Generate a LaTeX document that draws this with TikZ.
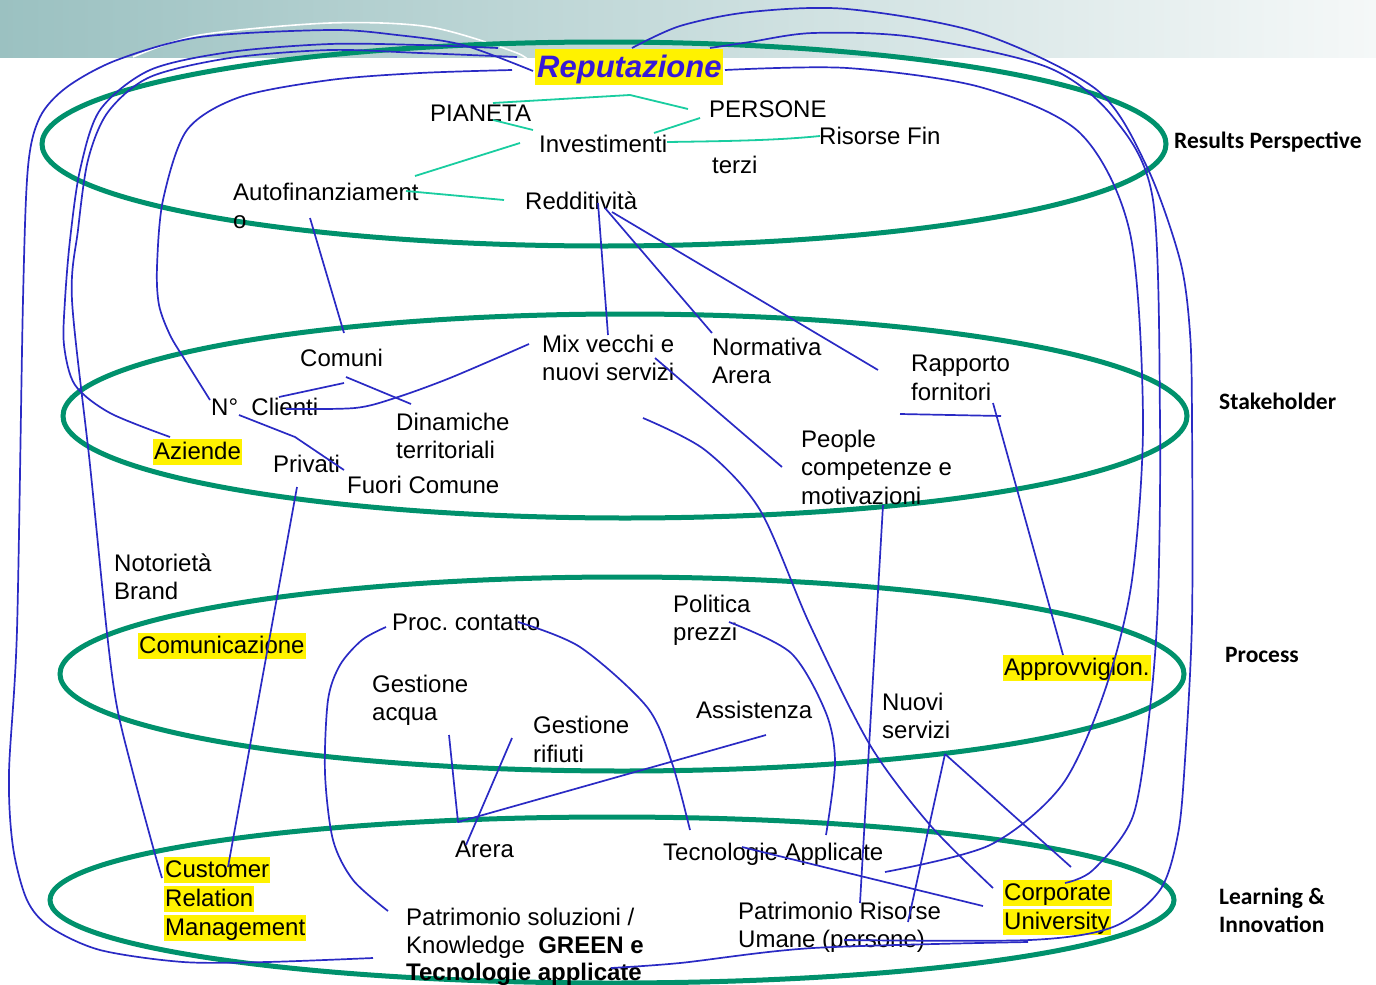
\documentclass[tikz,border=0pt]{standalone}
\usepackage{fontspec}
\setmainfont{Liberation Sans}
\newfontfamily\lblfont{Carlito}
\definecolor{ringgreen}{RGB}{0,145,108}
\definecolor{linkblue}{RGB}{42,42,196}
\definecolor{linkteal}{RGB}{25,205,160}
\definecolor{repblue}{RGB}{55,25,215}
\definecolor{bandL}{RGB}{155,193,193}
\definecolor{bandR}{RGB}{245,248,248}
\frenchspacing
\begin{document}
\begin{tikzpicture}[x=1pt,y=-1pt,
  ring/.style={draw=ringgreen, line width=5pt},
  link/.style={draw=linkblue, line width=1.7pt, line join=round},
  tlink/.style={draw=linkteal, line width=1.8pt, line join=round},
  txt/.style={anchor=base west, inner sep=0pt, font=\fontsize{24}{29}\selectfont},
  hl/.style={txt, fill=yellow, inner xsep=1pt, inner ysep=0pt, text height=20pt, text depth=6pt},
  side/.style={anchor=base west, inner sep=0pt, font=\lblfont\bfseries\fontsize{23.5}{28}\selectfont}]
\useasboundingbox (0,0) rectangle (1376,985);
% top band
\shade[left color=bandL, right color=bandR] (0,0) rectangle (1376,57);
\draw[white, line width=1.6pt] plot[smooth] coordinates {(533,67) (517,53) (430,27) (330,23) (200,35) (133,57)};
% rings
\draw[ring] (604,144) ellipse [x radius=562pt, y radius=102pt];
\draw[ring] (625,416) ellipse [x radius=562pt, y radius=102pt];
\draw[ring] (622,674) ellipse [x radius=562pt, y radius=97pt];
\draw[ring] (612,900) ellipse [x radius=562pt, y radius=83pt];
% title
\node[anchor=base west, fill=yellow, inner xsep=2pt, inner ysep=0pt, text height=28pt, text depth=8pt, text=repblue, font=\bfseries\itshape\fontsize{31}{36}\selectfont] (rep) at (535,77) {Reputazione};
% texts
\node[txt] (pianeta) at (430,121) {PIANETA};
\node[txt] (persone) at (709,117) {PERSONE};
\node[txt] (risorse) at (819,144) {Risorse Fin};
\node[txt] (terzi) at (712,173) {terzi};
\node[txt] (invest) at (539,152) {Investimenti};
\node[txt] (auto1) at (233,200) {Autofinanziament};
\node[txt] (auto2) at (233,228) {o};
\node[txt] (redd) at (525,209) {Redditività};
\node[txt] (mix1) at (542,352) {Mix vecchi e};
\node[txt] (mix2) at (542,380) {nuovi servizi};
\node[txt] (norm1) at (712,355) {Normativa};
\node[txt] (norm2) at (712,383) {Arera};
\node[txt] (comuni) at (300,366) {Comuni};
\node[txt] (rapp1) at (911,371) {Rapporto};
\node[txt] (rapp2) at (911,400) {fornitori};
\node[txt] (clienti) at (211,415) {N°\ \ Clienti};
\node[txt] (din1) at (396,430) {Dinamiche};
\node[txt] (din2) at (396,458) {territoriali};
\node[hl] (aziende) at (153,459) {Aziende};
\node[txt] (privati) at (273,472) {Privati};
\node[txt] (fuori) at (347,493) {Fuori Comune};
\node[txt] (people1) at (801,447) {People};
\node[txt] (people2) at (801,475) {competenze e};
\node[txt] (people3) at (801,504) {motivazioni};
\node[txt] (noto1) at (114,571) {Notorietà};
\node[txt] (noto2) at (114,599) {Brand};
\node[hl] (comunic) at (138,653) {Comunicazione};
\node[txt] (proc) at (392,630) {Proc. contatto};
\node[txt] (pol1) at (673,612) {Politica};
\node[txt] (pol2) at (673,640) {prezzi};
\node[hl] (approv) at (1003,675) {Approvvigion.};
\node[txt] (acqua1) at (372,692) {Gestione};
\node[txt] (acqua2) at (372,720) {acqua};
\node[txt] (rif1) at (533,733) {Gestione};
\node[txt] (rif2) at (533,762) {rifiuti};
\node[txt] (assist) at (696,718) {Assistenza};
\node[txt] (nuovi1) at (882,710) {Nuovi};
\node[txt] (nuovi2) at (882,738) {servizi};
\node[txt] (arera) at (455,857) {Arera};
\node[txt] (tecapp) at (663,860) {Tecnologie Applicate};
\node[hl] (crm1) at (164,877) {Customer\ };
\node[hl] (crm2) at (164,906) {Relation};
\node[hl] (crm3) at (164,935) {Management};
\node[hl] (corp1) at (1003,900) {Corporate\ };
\node[hl] (corp2) at (1003,929) {University};
\node[txt] (pat1) at (406,925) {Patrimonio soluzioni /};
\node[txt] (pat2) at (406,953) {Knowledge\ \ \textbf{GREEN e}};
\node[txt] (pat3) at (406,980) {\textbf{Tecnologie applicate}};
\node[txt] (hr1) at (738,919) {Patrimonio Risorse};
\node[txt] (hr2) at (738,947) {Umane (persone)};
% side labels
\node[side] (lres) at (1174,148) {Results Perspective};
\node[side] (lsta) at (1219,409) {Stakeholder};
\node[side] (lpro) at (1225,662) {Process};
\node[side] (llea1) at (1219,904) {Learning \&};
\node[side] (llea2) at (1219,932) {Innovation};
% endpoints
\coordinate (repA) at (533,71);  \coordinate (patA) at (373,958);
\coordinate (repB) at (498,48);  \coordinate (azB) at (170,437);
\coordinate (repC) at (517,57);  \coordinate (crmC) at (162,878);
\coordinate (repD) at (512,70);  \coordinate (clD) at (210,400);
\coordinate (repE) at (632,48);  \coordinate (hrE) at (844,940);
\coordinate (repF) at (710,48);  \coordinate (corpF) at (1065,883);
\coordinate (repG) at (725,70);  \coordinate (tecG) at (885,872);
\coordinate (patT) at (611,968); \coordinate (uniT) at (1028,942);
% teal links
\coordinate (pi1) at (493,103); \coordinate (pe1) at (688,109);
\draw[tlink] (pi1) -- (630,95) -- (pe1);
\coordinate (pi2) at (493,120); \coordinate (in2) at (533,130);
\draw[tlink] (pi2) -- (in2);
\coordinate (in3) at (654,133); \coordinate (pe3) at (700,118);
\draw[tlink] (in3) -- (pe3);
\coordinate (in4) at (667,142); \coordinate (ri4) at (820,136);
\draw[tlink] (in4) .. controls (740,141) and (780,140) .. (ri4);
\coordinate (in5) at (520,143); \coordinate (au5) at (415,176);
\draw[tlink] (in5) -- (au5);
\coordinate (au6) at (406,191); \coordinate (re6) at (504,200);
\draw[tlink] (au6) -- (re6);
% long blue links
\draw[link] plot[smooth] coordinates {(repA) (463,45) (397,35) (330,30) (200,37) (117,60) (67,87) (40,117) (28,167) (23,300) (17,630) (9,773) (13,847) (27,900) (50,927) (100,950) (183,962) (267,962) (patA)};
\draw[link] plot[smooth] coordinates {(repB) (420,45) (330,44) (230,52) (150,70) (100,110) (80,170) (70,240) (65,300) (64,345) (75,385) (110,413) (azB)};
\draw[link] plot[smooth] coordinates {(repC) (420,53) (330,50) (230,58) (150,77) (108,112) (88,160) (78,230) (72,300) (90,465) (107,633) (117,707) (133,773) (153,847) (crmC)};
\draw[link] plot[smooth] coordinates {(repD) (420,73) (330,80) (240,97) (187,130) (163,200) (157,267) (159,305) (170,335) (185,360) (clD)};
\draw[link] plot[smooth] coordinates {(repE) (680,26) (750,12) (847,9) (980,33) (1097,90) (1147,167) (1180,260) (1190,333) (1192,420) (1192,620) (1185,760) (1178,834) (1160,890) (1113,927) (1030,940) (hrE)};
\draw[link] plot[smooth] coordinates {(repF) (750,42) (813,33) (913,37) (1047,67) (1113,117) (1153,200) (1160,420) (1158,600) (1150,708) (1133,816) (1093,870) (corpF)};
\draw[link] plot[smooth] coordinates {(repG) (847,68) (980,87) (1080,133) (1130,233) (1143,420) (1132,580) (1105,690) (1062,785) (990,845) (tecG)};
\draw[link] plot[smooth] coordinates {(patT) (680,963) (813,948) (uniT)};
% results -> stakeholder
\coordinate (rd1) at (598,203); \coordinate (mx1) at (608,335);
\draw[link] (rd1) -- (mx1);
\coordinate (rd2) at (605,208); \coordinate (nm2) at (712,333);
\draw[link] (rd2) -- (nm2);
\coordinate (rd3) at (612,212); \coordinate (rp3) at (878,370);
\draw[link] (rd3) -- (rp3);
\coordinate (au4) at (310,218); \coordinate (co4) at (344,333);
\draw[link] (au4) -- (co4);
% stakeholder
\coordinate (co5) at (344,383); \coordinate (cl5) at (279,397);
\draw[link] (co5) -- (cl5);
\coordinate (co6) at (346,377); \coordinate (di6) at (411,404);
\draw[link] (co6) -- (di6);
\coordinate (mx7) at (529,344); \coordinate (cl7) at (286,409);
\draw[link] plot[smooth] coordinates {(mx7) (450,378) (395,398) (355,408) (cl7)};
\coordinate (nc8) at (239,415); \coordinate (fc8) at (344,470);
\draw[link] (nc8) -- (295,437) -- (fc8);
\coordinate (mx9) at (655,358); \coordinate (pp9) at (782,467);
\draw[link] (mx9) -- (pp9);
\coordinate (rf1) at (900,414); \coordinate (rf2) at (1001,416);
\draw[link] (rf1) -- (rf2);
\coordinate (rf3) at (993,403); \coordinate (ap3) at (1063,655);
\draw[link] (rf3) -- (ap3);
\coordinate (pp4) at (883,505); \coordinate (hr4) at (860,903);
\draw[link] (pp4) -- (hr4);
\coordinate (mxl) at (643,418); \coordinate (cul) at (993,888);
\draw[link] plot[smooth] coordinates {(mxl) (705,450) (760,510) (810,625) (870,745) (930,825) (cul)};
\coordinate (pv5) at (297,487); \coordinate (cr5) at (228,867);
\draw[link] (pv5) -- (cr5);
% process
\coordinate (pc1) at (386,627);
\coordinate (ps1) at (388,911);
\draw[link] plot[smooth] coordinates {(pc1) (362,640) (340,665) (328,700) (325,773) (333,840) (353,880) (ps1)};
\coordinate (pc2) at (518,622); \coordinate (ta2) at (690,830);
\draw[link] plot[smooth] coordinates {(pc2) (580,647) (647,707) (672,763) (ta2)};
\coordinate (po3) at (729,622); \coordinate (ta3) at (826,835);
\draw[link] plot[smooth] coordinates {(po3) (791,653) (826,713) (835,763) (ta3)};
\coordinate (ga4) at (449,735); \coordinate (ar4) at (458,822); \coordinate (as4) at (766,735);
\draw[link] (ga4) -- (ar4) -- (as4);
\coordinate (gr5) at (512,738); \coordinate (ar5) at (466,845);
\draw[link] (gr5) -- (ar5);
\coordinate (ns6) at (945,754); \coordinate (cu6) at (1071,867); \coordinate (hr6) at (908,922);
\draw[link] (ns6) -- (cu6);
\draw[link] (ns6) -- (hr6);
\coordinate (ta7) at (742,847); \coordinate (cu7) at (983,906);
\draw[link] (ta7) -- (cu7);
\end{tikzpicture}
\end{document}
